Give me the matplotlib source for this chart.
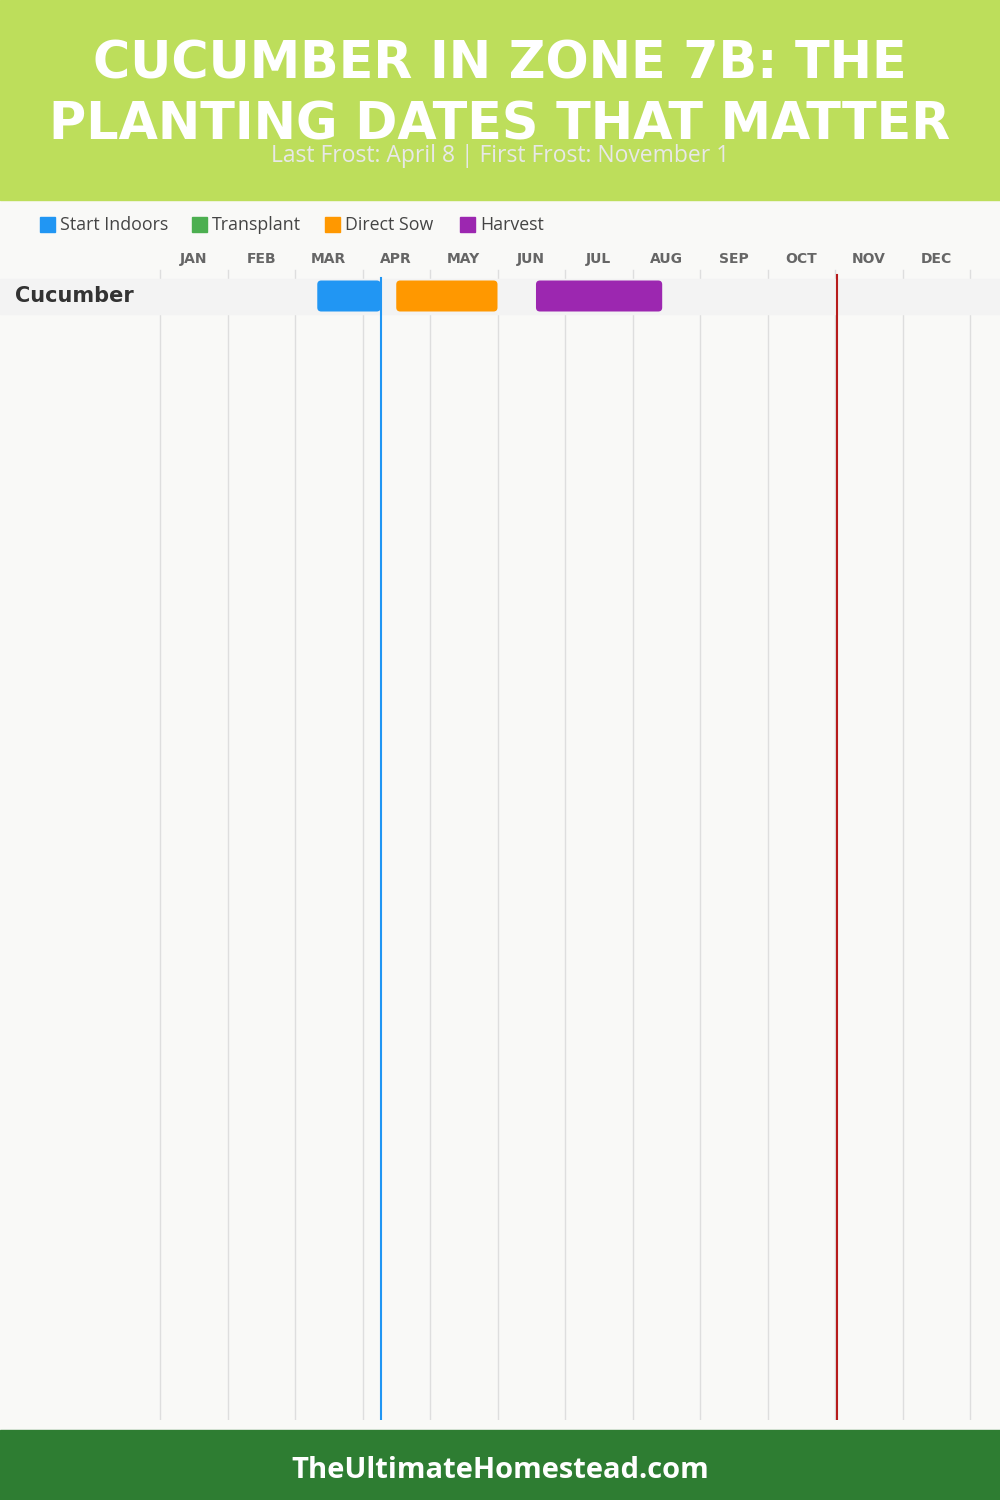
import matplotlib.pyplot as plt
from matplotlib.patches import FancyBboxPatch, Rectangle

# --- data (positions in months from Jan 1, month index + day/30) ---
months = ['JAN', 'FEB', 'MAR', 'APR', 'MAY', 'JUN', 'JUL', 'AUG', 'SEP', 'OCT', 'NOV', 'DEC']
crops = ['Cucumber']
phases = ['Start Indoors', 'Transplant', 'Direct Sow', 'Harvest']
phase_colors = ['#2196F3', '#4CAF50', '#FF9800', '#9C27B0']
start_indoors = [(2.33, 3.27)]
transplant = [None]
direct_sow = [(3.50, 5.00)]
harvest = [(5.57, 7.44)]
last_frost = 3 + 8 / 30      # April 8
first_frost = 10 + 1 / 30    # November 1

title = 'CUCUMBER IN ZONE 7B: THE\nPLANTING DATES THAT MATTER'
subtitle = 'Last Frost: April 8 | First Frost: November 1'
footer = 'TheUltimateHomestead.com'

W, H = 1000, 1500
fig = plt.figure(figsize=(10, 15), dpi=100)
fig.patch.set_facecolor('#F9F9F7')

# header / footer bands
fig.patches.append(Rectangle((0, 1 - 200 / H), 1, 200 / H, transform=fig.transFigure,
                             color='#BDDE5B', zorder=0))
fig.patches.append(Rectangle((0, 0), 1, 70 / H, transform=fig.transFigure,
                             color='#2E7D32', zorder=0))

fig.text(0.5, 1 - 95 / H, title, ha='center', va='center', color='white',
         fontsize=36.5, fontweight='heavy', family='DejaVu Sans', linespacing=1.3)
fig.text(0.5, 1 - 156 / H, subtitle, ha='center', va='center', color='#E8E8E8',
         fontsize=16.5, family='Open Sans')
fig.text(0.5, 1 - 1471 / H, footer, ha='center', va='center', color='white',
         fontsize=21, fontweight='bold', family='Open Sans')

# legend
leg_x = [40, 192, 325, 460]
for x, name, c in zip(leg_x, phases, phase_colors):
    fig.patches.append(Rectangle((x / W, 1 - 232 / H), 15 / W, 15 / H,
                                 transform=fig.transFigure, color=c))
    fig.text((x + 20) / W, 1 - 225 / H, name, ha='left', va='center',
             color='#444444', fontsize=12.8, family='Open Sans')

# chart axes: full width, from y=250 to y=1420 px
top, bottom = 250, 1420
ax = fig.add_axes([0, 1 - bottom / H, 1, (bottom - top) / H])
ax.set_facecolor('none')
px_per_month = 67.5
x0 = 160
ax.set_xlim(-x0 / px_per_month, (W - x0) / px_per_month)
ax.set_ylim(bottom - top, 0)
ax.axis('off')

# month labels and grid
for i, m in enumerate(months):
    ax.text(i + 0.5, 259 - top, m, ha='center', va='center', color='#666666',
            fontsize=10, fontweight='bold', family='DejaVu Sans')
for i in range(len(months) + 1):
    ax.plot([i, i], [270 - top, bottom - top], color='#DEDEDE', lw=1, zorder=1)

# rows
row_h = 35
bar_h = 31
first_row = 296 - top
series = [start_indoors, transplant, direct_sow, harvest]
for r, crop in enumerate(crops):
    yc = first_row + r * row_h
    ax.add_patch(Rectangle((ax.get_xlim()[0], yc - row_h / 2),
                           ax.get_xlim()[1] - ax.get_xlim()[0], row_h,
                           color='#F3F3F3', zorder=2))
    ax.text(-x0 / px_per_month + 15 / px_per_month, yc, crop, ha='left', va='center',
            color='#333333', fontsize=15, fontweight='bold', family='DejaVu Sans',
            zorder=5)
    for s, c in zip(series, phase_colors):
        span = s[r]
        if span is None:
            continue
        a, b = span
        ax.add_patch(FancyBboxPatch((a, yc - bar_h / 2), b - a, bar_h,
                                    boxstyle='round,pad=0,rounding_size=%f' % (4 / px_per_month),
                                    mutation_aspect=px_per_month,
                                    facecolor=c, edgecolor='none', zorder=3))

# frost lines
ax.plot([last_frost, last_frost], [278 - top, bottom - top], color='#2196F3', lw=1.5, zorder=4)
ax.plot([first_frost, first_frost], [275 - top, bottom - top], color='#B71C1C', lw=1.5, zorder=4)

fig.savefig('out.png', dpi=100, facecolor=fig.get_facecolor())
